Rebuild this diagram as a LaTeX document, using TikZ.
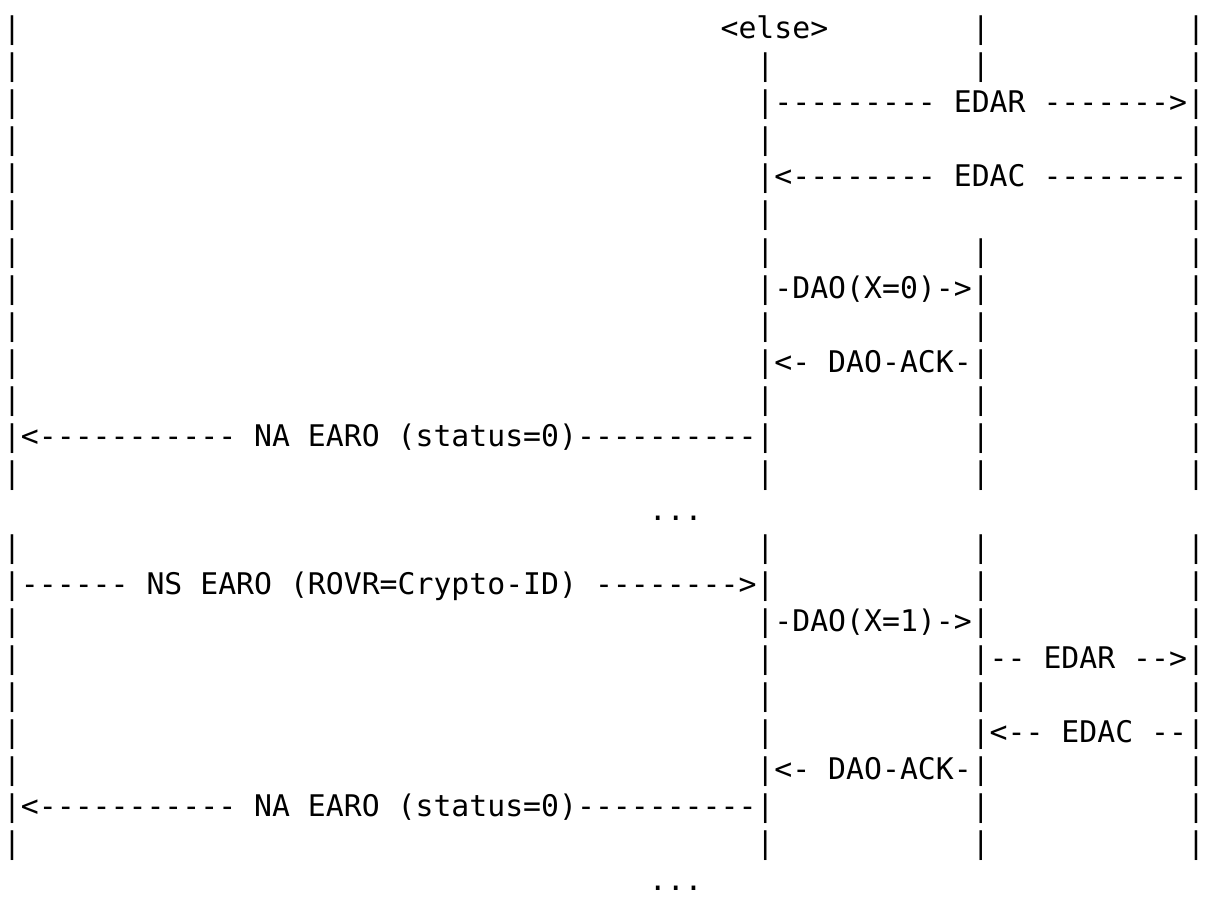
\documentclass[tikz,border=0pt]{standalone}
\usepackage{fontspec}
\setmonofont{DejaVu Sans Mono}

\begin{document}
\begin{tikzpicture}[x=17.94pt, y=-37pt,
	ascii/.style={font=\ttfamily\frenchspacing\fontsize{29.8pt}{37pt}\selectfont, inner sep=0pt, outer sep=0pt, anchor=base west}]

	\useasboundingbox (-3pt, 2pt) rectangle (1204pt, -907pt);

	\foreach \c/\a/\b in {0/1/13, 0/15/23, 42/2/13, 42/15/23, 54/1/2, 54/7/13, 54/15/23, 66/1/13, 66/15/23}
		\foreach \r in {\a,...,\b}
			\node[ascii] (bar\c-\r) at (\c, \r) {|};

	\node[ascii] (else) at (40, 1) {<else>};
	\node[ascii] (edar1) at (43, 3) {--------- EDAR ------->};
	\node[ascii] (edac1) at (43, 5) {<-------- EDAC --------};
	\node[ascii] (dao0) at (43, 8) {-DAO(X=0)->};
	\node[ascii] (ack1) at (43, 10) {<- DAO-ACK-};
	\node[ascii] (na1) at (1, 12) {<----------- NA EARO (status=0)----------};
	\node[ascii] (dots1) at (36, 14) {...};

	\node[ascii] (ns) at (1, 16) {------ NS EARO (ROVR=Crypto-ID) -------->};
	\node[ascii] (dao1) at (43, 17) {-DAO(X=1)->};
	\node[ascii] (edar2) at (55, 18) {-- EDAR -->};
	\node[ascii] (edac2) at (55, 20) {<-- EDAC --};
	\node[ascii] (ack2) at (43, 21) {<- DAO-ACK-};
	\node[ascii] (na2) at (1, 22) {<----------- NA EARO (status=0)----------};
	\node[ascii] (dots2) at (36, 24) {...};

\end{tikzpicture}
\end{document}
